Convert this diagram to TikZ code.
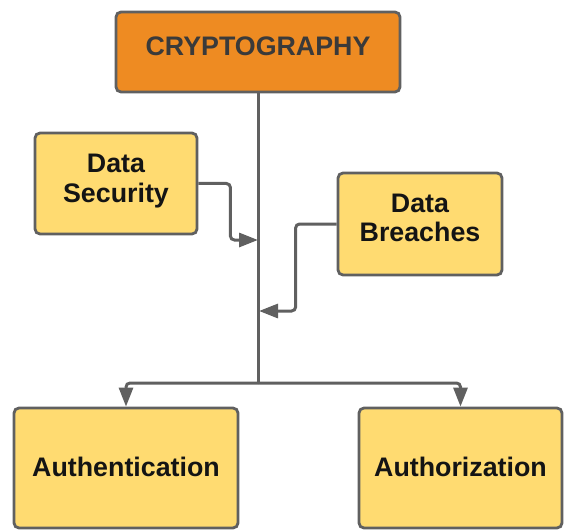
\documentclass[tikz,border=0pt]{standalone}
\usepackage{fontspec}
\setmainfont{Liberation Sans}
\usetikzlibrary{arrows.meta}
\definecolor{boxorange}{HTML}{EE8B22}
\definecolor{boxyellow}{HTML}{FFDB71}
\definecolor{edgegray}{HTML}{606060}
\definecolor{titletext}{HTML}{3A3A3A}
\tikzset{
  box/.style={draw=edgegray, line width=2.8pt, rounded corners=5pt,
    fill=boxyellow, align=center, inner sep=0pt,
    font=\fontsize{26.8}{29.5}\selectfont\bfseries, text=black!92},
  topbox/.style={box, fill=boxorange, text=titletext},
  conn/.style={draw=edgegray, line width=3pt, rounded corners=4pt},
  arr/.style={conn, -{Triangle[length=19pt,width=14pt]}}
}
\begin{document}
\begin{tikzpicture}[x=1pt,y=-1pt]
  \useasboundingbox (0,0) rectangle (569,529);
  % boxes
  \node[topbox, minimum width=284pt, minimum height=80pt, text depth=11pt] (crypto) at (258,52) {CRYPTOGRAPHY};
  \node[box, minimum width=162pt, minimum height=101pt, text depth=10pt] (sec) at (116,183.5) {Data\\Security};
  \node[box, minimum width=164pt, minimum height=102pt, text depth=12pt] (bre) at (420,224) {Data\\Breaches};
  \node[box, minimum width=224pt, minimum height=120pt, text depth=3pt] (authn) at (126,468) {Authentication};
  \node[box, minimum width=203pt, minimum height=120pt, text depth=3pt] (authz) at (460.5,468) {Authorization};
  % trunk and junctions
  \coordinate (split) at (258,383);
  \coordinate (j1) at (258,240);
  \coordinate (j2) at (259,311);
  \draw[conn] (crypto.south) -- (split);
  \draw[arr] (split) -| (authn.north);
  \draw[arr] (split) -| (authz.north);
  % side inputs
  \draw[arr] (sec.east) -- ++(32,0) |- (j1);
  \draw[arr] (bre.west) -- ++(-41,0) |- (j2);
\end{tikzpicture}
\end{document}
